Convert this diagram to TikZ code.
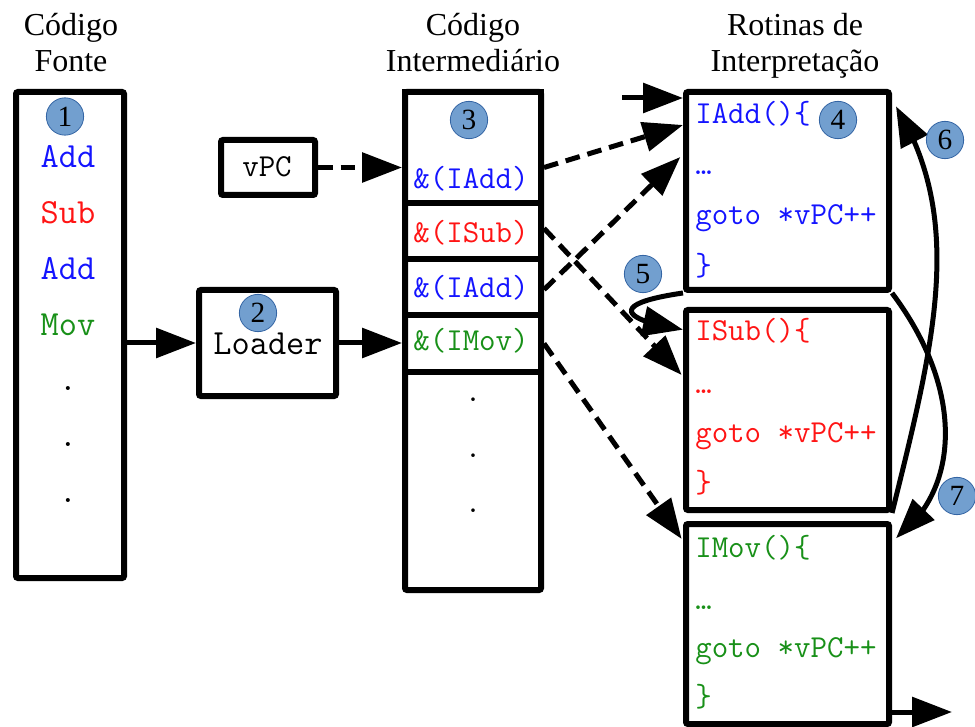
\documentclass[tikz,border=0pt]{standalone}
\usepackage{fontspec}
\setmainfont{Liberation Serif}
\usetikzlibrary{arrows.meta,bending,calc}

\definecolor{cblue}{RGB}{20,20,255}
\definecolor{cred}{RGB}{255,20,20}
\definecolor{cgreen}{RGB}{24,144,24}
\definecolor{badgefill}{HTML}{729FCF}
\definecolor{badgeline}{HTML}{3465A4}

\begin{document}
\begin{tikzpicture}[x=0.75pt,y=-0.75pt,
  frame/.style={draw,line width=4.5pt,rounded corners=1.5pt,inner sep=0pt},
  slot/.style={draw,line width=4.5pt,inner sep=0pt,minimum width=102pt},
  title/.style={font=\fontsize{24}{27}\selectfont,align=center,anchor=base,inner sep=0pt},
  code/.style={font=\ttfamily\fontsize{24}{27}\selectfont,anchor=base west,inner sep=0pt},
  codec/.style={font=\ttfamily\fontsize{24}{27}\selectfont,anchor=base,inner sep=0pt},
  bigc/.style={font=\ttfamily\fontsize{26.5}{29}\selectfont,anchor=base,inner sep=0pt},
  badge/.style={circle,fill=badgefill,draw=badgeline,line width=0.6pt,minimum size=28pt,inner sep=0pt,font=\fontsize{22}{22}\selectfont},
  link/.style={line width=3.75pt,-{Triangle[length=30pt,width=22pt,flex]}},
  dlink/.style={link,dash pattern=on 11pt off 6pt},
]
\useasboundingbox (0,0) rectangle (975,727);

% column titles (base anchor sits on the last line)
\node[title] (t1) at (71,72) {Código\\Fonte};
\node[title] (t2) at (473,72) {Código\\Intermediário};
\node[title] (t3) at (795,72) {Rotinas de\\Interpretação};

% source code column
\node[frame,minimum width=81pt,minimum height=364.5pt] (src) at (70,335) {};
\node[bigc,text=cblue]  (l1) at (68,168) {Add};
\node[bigc,text=cred]   (l2) at (68,224) {Sub};
\node[bigc,text=cblue]  (l3) at (68,280) {Add};
\node[bigc,text=cgreen] (l4) at (68,336) {Mov};
\node[bigc] (ld1) at (68,390) {.};
\node[bigc] (ld2) at (68,446) {.};
\node[bigc] (ld3) at (68,502) {.};

% vPC register and loader
\node[frame,minimum width=70.5pt,minimum height=41.25pt] (vpc) at (268,167.5) {};
\node[codec] (vpct) at (267,177) {vPC};
\node[frame,minimum width=102.75pt,minimum height=79.5pt] (ldr) at (267.5,343) {};
\node[bigc] (ldrt) at (268,354) {Loader};

% intermediate code column
\node[frame,minimum width=102pt,minimum height=373.5pt] (mid) at (473,341) {};
\node[slot,minimum height=83.25pt] (s1) at (473,147.5) {};
\node[slot,minimum height=42pt] (s2) at (473,231) {};
\node[slot,minimum height=42pt] (s3) at (473,287) {};
\node[slot,minimum height=42.75pt] (s4) at (473,343.5) {};
\node[codec,text=cblue]  (m1) at (471,189) {\&(IAdd)};
\node[codec,text=cred]   (m2) at (471,243) {\&(ISub)};
\node[codec,text=cblue]  (m3) at (471,298) {\&(IAdd)};
\node[codec,text=cgreen] (m4) at (471,351) {\&(IMov)};
\node[codec] (md1) at (473,402) {.};
\node[codec] (md2) at (473,457) {.};
\node[codec] (md3) at (473,512) {.};

% interpretation routines
\node[frame,minimum width=152.25pt,minimum height=148.5pt] (fadd) at (787.5,191) {};
\node[code,text=cblue] (fa1) at (695,124) {IAdd()\{};
\node[code,text=cblue] (fa2) at (695,175) {…};
\node[code,text=cblue] (fa3) at (695,225) {goto *vPC++};
\node[code,text=cblue] (fa4) at (695,276) {\}};

\node[frame,minimum width=152.25pt,minimum height=150pt] (fsub) at (787.5,410) {};
\node[code,text=cred] (fs1) at (695,341) {ISub()\{};
\node[code,text=cred] (fs2) at (695,393) {…};
\node[code,text=cred] (fs3) at (695,442) {goto *vPC++};
\node[code,text=cred] (fs4) at (695,492) {\}};

\node[frame,minimum width=152.25pt,minimum height=150pt] (fmov) at (787.5,624) {};
\node[code,text=cgreen] (fm1) at (695,557) {IMov()\{};
\node[code,text=cgreen] (fm2) at (695,609) {…};
\node[code,text=cgreen] (fm3) at (695,657) {goto *vPC++};
\node[code,text=cgreen] (fm4) at (695,706) {\}};

% solid connectors
\draw[link] (src.east |- ldr.west) -- (ldr.west);
\draw[link] (ldr.east) -- (ldr.east -| mid.west);
\coordinate (entry) at (622,98);
\draw[link] (entry) -- (entry -| fadd.west);
\coordinate (exit) at (952,712);
\draw[link] (exit -| fmov.east) -- (exit);

% dashed connectors (pointers)
\draw[dlink] (vpc.east) -- (vpc.east -| mid.west);
\draw[dlink] ([yshift=-15pt]s1.east) -- ([yshift=-27pt]fadd.north west);
\draw[dlink] ([yshift=-2pt]s3.east) -- ([xshift=-2pt,yshift=-51pt]fadd.north west);
\draw[dlink] ([yshift=2pt]s2.east) -- ([xshift=-1pt,yshift=-51pt]fsub.north west);
\draw[dlink] (s4.east) -- ([xshift=-1pt,yshift=-13.5pt]fmov.north west);

% dispatch jumps between routines
\draw[link] (fadd.south west) .. controls (600,305) and (630,322) .. ([yshift=-17pt]fsub.north west);
\draw[link] (fsub.south east) .. controls (935,340) and (965,220) .. ([xshift=3pt,yshift=-13pt]fadd.north east);
\draw[link] (fadd.south east) .. controls (965,390) and (960,490) .. ([xshift=3pt,yshift=-13pt]fmov.north east);

% step badges
\node[badge] (b1) at (65,116.5) {1};
\node[badge] (b2) at (258,313) {2};
\node[badge] (b3) at (469,120) {3};
\node[badge] (b4) at (838,120) {4};
\node[badge] (b5) at (643,274) {5};
\node[badge] (b6) at (945,140) {6};
\node[badge] (b7) at (957,496) {7};
\end{tikzpicture}
\end{document}
